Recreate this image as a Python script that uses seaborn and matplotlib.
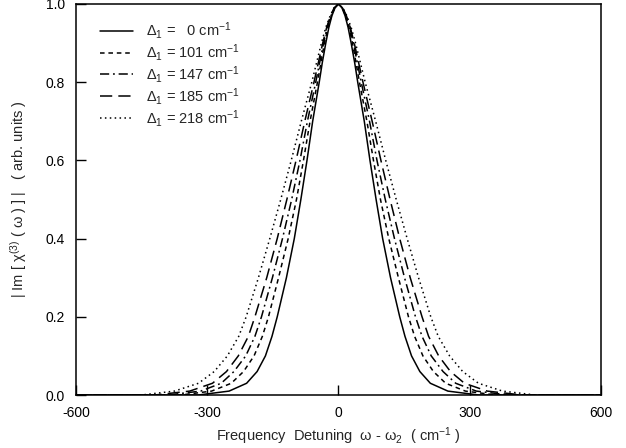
import numpy as np
import pandas as pd
import matplotlib
matplotlib.use("Agg")
import matplotlib.pyplot as plt
import seaborn as sns

# Normalised signal levels at which half-widths were read (right half of each peak)
levels = [1.0, 0.99, 0.97, 0.94, 0.9, 0.85, 0.8, 0.7, 0.6, 0.5, 0.4, 0.3, 0.2, 0.15, 0.1, 0.06, 0.03, 0.01, 0.0]
# Detuning (cm^-1) at which each curve reaches the level above
w_0   = [0, 8, 15, 22, 29, 37, 44, 59, 72, 86, 101, 119, 140, 152, 167, 186, 210, 250, 320]
w_101 = [0, 9, 16, 24, 32, 40, 48, 65, 80, 96, 115, 137, 160, 174, 193, 217, 245, 290, 360]
w_147 = [0, 9, 17, 26, 34, 43, 52, 71, 88, 107, 128, 151, 176, 191, 212, 239, 268, 315, 390]
w_185 = [0, 10, 18, 27, 36, 46, 56, 77, 97, 118, 140, 164, 191, 206, 229, 256, 288, 340, 420]
w_218 = [0, 10, 19, 29, 39, 50, 61, 85, 108, 132, 157, 183, 211, 228, 254, 284, 320, 375, 450]
x_edge = 600
labels = [r"$\Delta_1$ =   0 cm$^{-1}$", r"$\Delta_1$ = 101 cm$^{-1}$",
          r"$\Delta_1$ = 147 cm$^{-1}$", r"$\Delta_1$ = 185 cm$^{-1}$",
          r"$\Delta_1$ = 218 cm$^{-1}$"]
widths = [w_0, w_101, w_147, w_185, w_218]

rows = []
for lab, w in zip(labels, widths):
    xs = [-x_edge] + [-v for v in reversed(w)] + w[1:] + [x_edge]
    ys = [0.0] + list(reversed(levels)) + levels[1:] + [0.0]
    for i, (xv, yv) in enumerate(zip(xs, ys)):
        rows.append({"x": xv, "y": yv, "series": lab, "order": i})
df = pd.DataFrame(rows)

sns.set_style("ticks")
plt.rcParams["font.family"] = ["Liberation Sans", "DejaVu Sans"]
plt.rcParams["mathtext.fontset"] = "custom"
plt.rcParams["mathtext.rm"] = "Liberation Sans"
plt.rcParams["mathtext.it"] = "Liberation Sans"
plt.rcParams["mathtext.bf"] = "Liberation Sans:bold"

fig = plt.figure(figsize=(6.26, 4.48), dpi=100)
ax = fig.add_axes([0.1214, 0.1183, 0.8386, 0.8728])

dash_map = {labels[0]: "", labels[1]: (3, 2.5), labels[2]: (6, 2.5, 1.2, 2.5),
            labels[3]: (8, 4), labels[4]: (1, 2.2)}
sns.lineplot(data=df, x="x", y="y", style="series", style_order=labels,
             dashes=dash_map, color="black", linewidth=1.1, sort=False,
             estimator=None, units="series", ax=ax, legend="full")

ax.set_xlim(-600, 600)
ax.set_ylim(0, 1.0)
ax.set_xticks([-600, -300, 0, 300, 600])
ax.set_xticklabels(["-600", "-300", "0", "300", "600"])
ax.set_yticks([0.0, 0.2, 0.4, 0.6, 0.8, 1.0])
ax.set_yticklabels(["0.0", "0.2", "0.4", "0.6", "0.8", "1.0"])
ax.tick_params(direction="in", length=7, width=1, labelsize=10, pad=8, colors="black")
for s in ax.spines.values():
    s.set_linewidth(1.1)
    s.set_color("black")
    s.set_visible(True)

ax.set_xlabel("Frequency  Detuning  ω - ω$_2$  ( cm$^{-1}$ )", fontsize=10.5, labelpad=4)
ax.set_ylabel("| Im [ χ$^{(3)}$ ( ω ) ] |   ( arb. units )", fontsize=10.5, labelpad=12)

leg = ax.legend(loc="upper left", frameon=False, fontsize=10.5, handlelength=2.3,
                handletextpad=0.9, labelspacing=0.06, bbox_to_anchor=(0.02, 0.992))
fig.savefig("out.png", dpi=100)
